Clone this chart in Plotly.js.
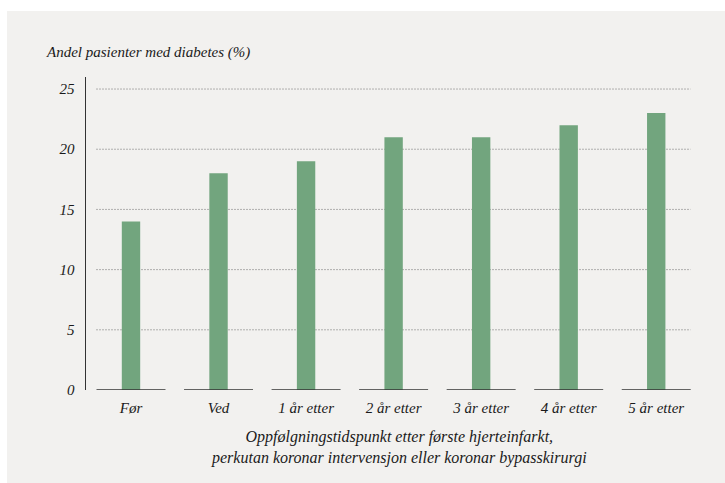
<!DOCTYPE html>
<html>
<head>
<meta charset="utf-8">
<script src="https://cdn.plot.ly/plotly-3.0.1.min.js"></script>
<style>
  html, body { margin: 0; padding: 0; background: #ffffff; }
  #panel { position: absolute; left: 7px; top: 11px; width: 718px; height: 472px; background: #f2f1ef; }
  #chart { width: 718px; height: 472px; }
</style>
</head>
<body>
<div id="panel"><div id="chart"></div></div>
<script>
// values
const categories = ['Før', 'Ved', '1 år etter', '2 år etter', '3 år etter', '4 år etter', '5 år etter'];
const diabetesPct = [14, 18, 19, 21, 21, 22, 23];
const yTicks = [0, 5, 10, 15, 20, 25];

const yTitle = 'Andel pasienter med diabetes (%)';
const xTitle = 'Oppfølgningstidspunkt etter første hjerteinfarkt,<br>perkutan koronar intervensjon eller koronar bypasskirurgi';

const FONT = '"Liberation Serif", "DejaVu Serif", serif';
const INK = '#1a1a1a';
const GREEN = '#72a57e';

const idx = categories.map((_, i) => i);
const segHalf = 0.394; // half width of the baseline segment under each bar

const trace = {
  type: 'bar',
  x: idx,
  y: diabetesPct,
  width: 0.21,
  marker: { color: GREEN, line: { width: 0 } },
  hoverinfo: 'skip',
};

const shapes = [];
// dotted gridlines, only from the first to the last baseline segment
yTicks.filter(v => v > 0).forEach(v => {
  shapes.push({
    type: 'line', xref: 'x', yref: 'y',
    x0: idx[0] - segHalf, x1: idx[idx.length - 1] + segHalf, y0: v, y1: v,
    line: { color: '#6e6e6e', width: 1, dash: '1px,2px' },
    layer: 'below',
  });
});
// dark baseline piece under each category
idx.forEach(i => {
  shapes.push({
    type: 'line', xref: 'x', yref: 'y',
    x0: i - segHalf, x1: i + segHalf, y0: 0, y1: 0,
    line: { color: '#333333', width: 1.5 },
  });
});

const layout = {
  width: 718,
  height: 472,
  margin: { l: 79, r: 25, t: 66, b: 93 },
  paper_bgcolor: 'rgba(0,0,0,0)',
  plot_bgcolor: 'rgba(0,0,0,0)',
  showlegend: false,
  font: { family: FONT, size: 15, color: INK, style: 'italic' },
  xaxis: {
    range: [-0.514, 6.5],
    tickmode: 'array',
    tickvals: idx,
    ticktext: categories,
    ticks: '',
    showgrid: false,
    zeroline: false,
    showline: false,
    ticklabelstandoff: 7,
    tickfont: { family: FONT, size: 15, color: INK, style: 'italic' },
    fixedrange: true,
  },
  yaxis: {
    range: [0, 26],
    tickmode: 'array',
    tickvals: yTicks,
    ticks: '',
    showgrid: false,
    zeroline: false,
    showline: true,
    linecolor: '#333333',
    linewidth: 1.5,
    ticklabelstandoff: 7,
    tickfont: { family: FONT, size: 15, color: INK, style: 'italic' },
    fixedrange: true,
  },
  shapes: shapes,
  annotations: [
    {
      text: yTitle,
      xref: 'paper', yref: 'paper',
      x: 0, y: 1, xshift: -42, yshift: 14,
      xanchor: 'left', yanchor: 'bottom',
      showarrow: false,
      font: { family: FONT, size: 15, color: INK, style: 'italic' },
    },
    {
      text: xTitle,
      xref: 'paper', yref: 'paper',
      x: 0.5, y: 0, xshift: 6, yshift: -36,
      xanchor: 'center', yanchor: 'top',
      showarrow: false,
      font: { family: FONT, size: 16, color: INK, style: 'italic' },
    },
  ],
};

Plotly.newPlot('chart', [trace], layout, { displayModeBar: false, staticPlot: true });
</script>
</body>
</html>
